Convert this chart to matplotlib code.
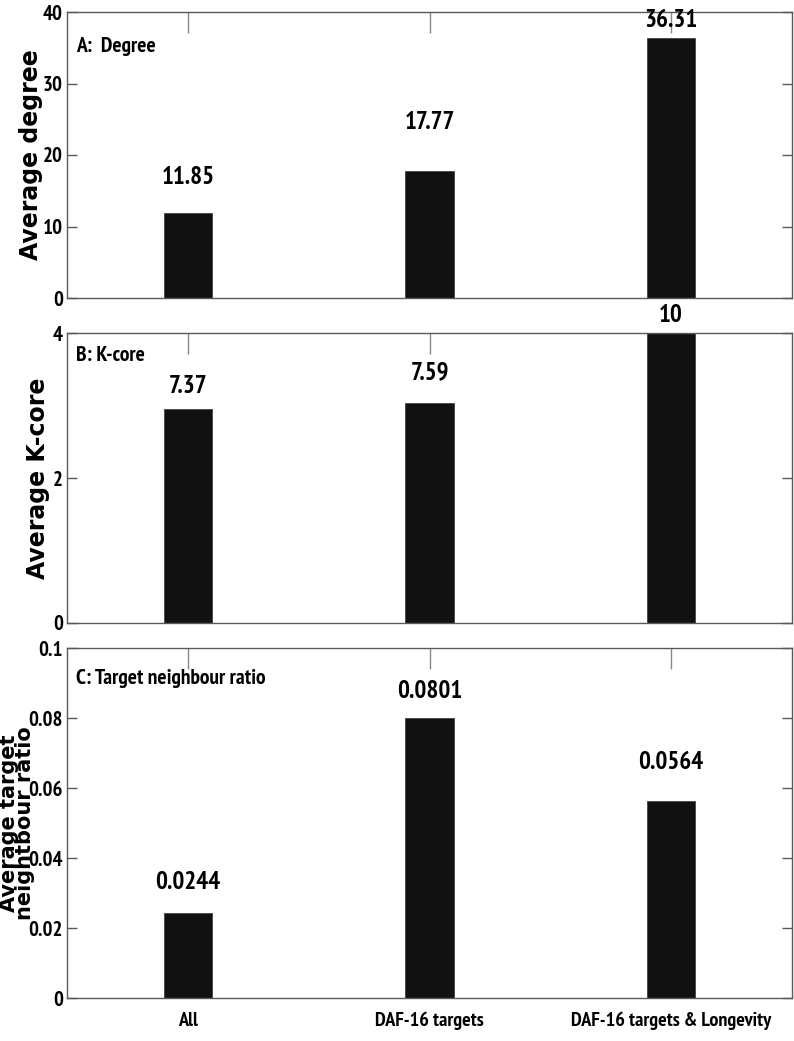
import matplotlib
matplotlib.use("Agg")
import matplotlib.pyplot as plt
from matplotlib import font_manager as fm

categories = ["All", "DAF-16 targets", "DAF-16 targets & Longevity"]
degree_values = [11.85, 17.77, 36.31]
degree_labels = ["11.85", "17.77", "36.31"]
kcore_heights = [2.95, 3.04, 4.0]          # bar heights as drawn on the 0-4 axis
kcore_labels = ["7.37", "7.59", "10"]
ratio_values = [0.0244, 0.0801, 0.0564]
ratio_labels = ["0.0244", "0.0801", "0.0564"]

names = {f.name for f in fm.fontManager.ttflist}
narrow = next((n for n in ["Liberation Sans Narrow", "Arial Narrow", "PT Sans Narrow",
                           "Fira Sans Extra Condensed", "Barlow Condensed", "Roboto Condensed"]
               if n in names), "DejaVu Sans")
wide = "DejaVu Sans"
plt.rcParams["font.family"] = [narrow, "DejaVu Sans"]

fig = plt.figure(figsize=(7.94, 10.41), dpi=100)
W, H = 794, 1041
def ax_at(left, top, right, bottom):
    return fig.add_axes([left / W, 1 - bottom / H, (right - left) / W, (bottom - top) / H])

axA = ax_at(67, 12, 792, 298)
axB = ax_at(67, 333, 792, 623)
axC = ax_at(67, 648, 792, 998)

x = [1, 2, 3]
spine_col = "#5a5a5a"
bar_col = "#111111"

panels = [
    (axA, degree_values, degree_labels, (0, 40), [0, 10, 20, 30, 40], ["0", "10", "20", "30", "40"],
     "A:  Degree", "Average degree", [24, 37, 6], 25, 17, 31),
    (axB, kcore_heights, kcore_labels, (0, 4), [0, 2, 4], ["0", "2", "4"],
     "B: K-core", "Average K-core", [11, 18, 6], 13, 17, 38),
    (axC, ratio_values, ratio_labels, (0, 0.1), [0, 0.02, 0.04, 0.06, 0.08, 0.1],
     ["0", "0.02", "0.04", "0.06", "0.08", "0.1"],
     "C: Target neighbour ratio", "Average target\nneightbour ratio", [19, 15, 27], 21, 15, 17),
]

for ax, vals, labs, ylim, yt, ytl, title, ylab, offs, toff, ylsize, ylx in panels:
    ax.bar(x, vals, width=0.2, color=bar_col, edgecolor="#444444", linewidth=0.6, zorder=3)
    ax.set_xlim(0.5, 3.5)
    ax.set_ylim(*ylim)
    ax.set_yticks(yt)
    ax.set_yticklabels(ytl)
    ax.set_xticks(x)
    for s in ax.spines.values():
        s.set_color(spine_col)
        s.set_linewidth(1.0)
        s.set_zorder(4)
    ax.tick_params(axis="y", direction="in", length=7, width=1.0, color=spine_col,
                   right=True, labelsize=15, pad=3)
    ax.tick_params(axis="x", direction="in", length=15, width=1.0, color="#888888",
                   top=True, labelsize=14.5, pad=10)
    for lab in ax.get_yticklabels():
        lab.set_fontweight("bold")
    for xi, v, t, o in zip(x, vals, labs, offs):
        ax.annotate(t, (xi, v), xytext=(0, o), textcoords="offset pixels",
                    ha="center", va="bottom", fontsize=18, fontweight="bold",
                    annotation_clip=False, zorder=5)
    ax.text(9 / 725, 1 - toff / ax.bbox.height, title, transform=ax.transAxes, ha="left", va="top",
            fontsize=15.5, fontweight="bold")
    ax.set_ylabel(ylab, family=[wide], fontsize=ylsize, fontweight="bold", linespacing=0.78)
    ax.yaxis.label.set_horizontalalignment("center")
    ax.yaxis.label.set_verticalalignment("center")
    ax.yaxis.set_label_coords((ylx - 67) / 725, 0.5)

axA.set_xticklabels([])
axB.set_xticklabels([])
axC.set_xticklabels(categories, fontweight="bold")

fig.savefig("out.png", dpi=100)
